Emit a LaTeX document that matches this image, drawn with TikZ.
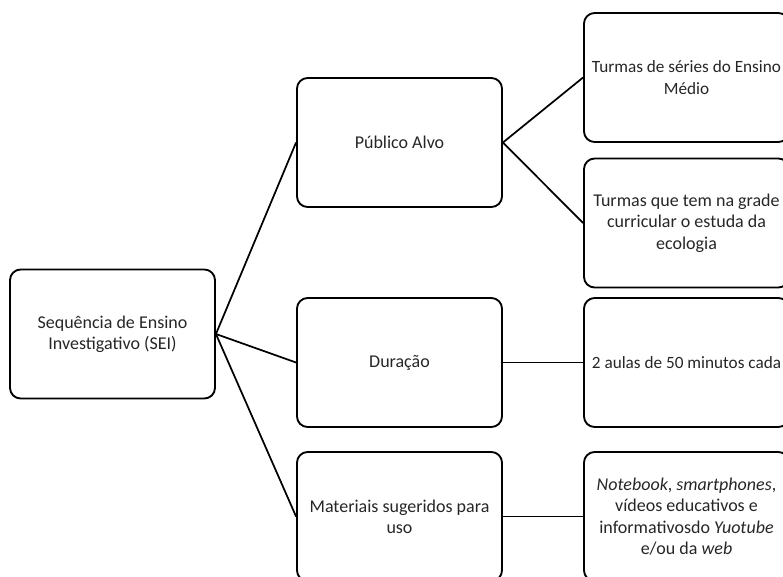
\documentclass[tikz,border=0pt]{standalone}
\usepackage{fontspec}
\setmainfont{Carlito}
\begin{document}
\begin{tikzpicture}[x=0.75pt,y=-0.75pt,
  box/.style={draw=black, line width=1.4pt, rounded corners=8pt,
    minimum width=153.75pt, minimum height=96.75pt, align=center,
    font=\fontsize{13.5}{16}\selectfont, text=black!85, inner sep=1pt},
  tight/.style={font=\fontsize{12.9}{16}\selectfont},
  link/.style={draw=black, line width=1.3pt}]
\useasboundingbox (0,0) rectangle (783,576);
\node[box] (sei) at (112.5,334) {Sequência de Ensino\\Investigativo (SEI)};
\node[box] (pub) at (399.5,142.5) {Público Alvo};
\node[box] (dur) at (399.5,362.5) {Duração};
\node[box] (mat) at (399.5,516.5) {Materiais sugeridos para\\uso};
\node[box,tight] (t1) at (686.5,77.5) {Turmas de séries do Ensino\\Médio};
\node[box] (t2) at (686.5,223) {Turmas que tem na grade\\curricular o estuda da\\ecologia};
\node[box,tight] (t3) at (686.5,362.5) {2 aulas de 50 minutos cada};
\node[box] (t4) at (686.5,516.5) {\textit{Notebook}, \textit{smartphones},\\vídeos educativos e\\informativosdo \textit{Yuotube}\\e/ou da \textit{web}};
\draw[link] (sei.east) -- (pub.west);
\draw[link] (sei.east) -- (dur.west);
\draw[link] (sei.east) -- (mat.west);
\draw[link] (pub.east) -- (t1.west);
\draw[link] (pub.east) -- (t2.west);
\draw[link] (dur.east) -- (t3.west);
\draw[link] (mat.east) -- (t4.west);
\end{tikzpicture}
\end{document}
